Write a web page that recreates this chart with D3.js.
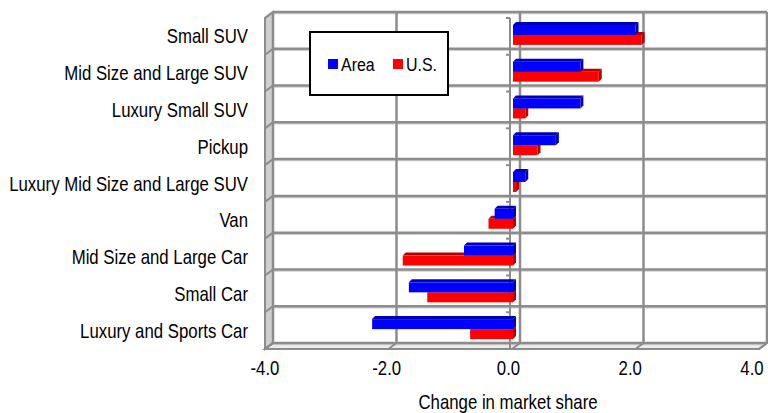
<!DOCTYPE html>
<html>
<head>
<meta charset="utf-8">
<script src="https://cdn.jsdelivr.net/npm/d3@7"></script>
<style>
  body { margin: 0; background: #fff; }
  svg text { font-family: "Liberation Sans", Arial, sans-serif; fill: #000; }
</style>
</head>
<body>
<div id="vis"></div>
<script>
var width = 768, height = 413

var categories = ['Small SUV', 'Mid Size and Large SUV', 'Luxury Small SUV', 'Pickup',
  'Luxury Mid Size and Large SUV', 'Van', 'Mid Size and Large Car', 'Small Car', 'Luxury and Sports Car']
var areaValues = [2.0, 1.1, 1.1, 0.7, 0.2, -0.3, -0.8, -1.7, -2.3]
var usValues = [2.1, 1.4, 0.2, 0.4, 0.05, -0.4, -1.8, -1.4, -0.7]
var seriesNames = ['Area', 'U.S.']
var seriesColors = ['#0000ff', '#ff0000']
var sideColors = ['#0000b4', '#b40000']
var tickValues = [-4, -2, 0, 2, 4]

var grid = '#8c8c8c'
// back wall box
var wall = { left: 273, right: 767, top: 12, bottom: 343 }
var depth = { dx: -8, dy: 6 }   // back -> front offset
var squeeze = 0.84  // narrow the font, reference uses a condensed face

var svg = d3.select('#vis').append('svg').attr('width', width).attr('height', height)

var xBack = d3.scaleLinear().domain([-4, 4]).range([wall.left, wall.right])
var xLabel = d3.scaleLinear().domain([-4, 4]).range([265, 752])
var xBar = d3.scaleLinear().domain([-4, 4]).range([268, 758])
var yBack = d3.scaleBand().domain(categories).range([wall.top, wall.bottom])

// text placed with a horizontal squeeze around its anchor point
function label(parent, x, y, str, size, anchor) {
  return parent.append('text')
    .attr('transform', 'translate(' + x + ',' + y + ') scale(' + squeeze + ',1)')
    .attr('text-anchor', anchor || 'start')
    .attr('font-size', size)
    .text(str)
}

// left side wall
svg.append('polygon')
  .attr('points', [[wall.left, wall.top], [wall.left, wall.bottom], [wall.left + depth.dx, wall.bottom + depth.dy], [wall.left + depth.dx, wall.top + depth.dy]].join(' '))
  .attr('fill', '#cfcfcf').attr('stroke', grid).attr('stroke-width', 2)

// floor
svg.append('polygon')
  .attr('points', [[wall.left, wall.bottom], [wall.right, wall.bottom], [wall.right + depth.dx, wall.bottom + depth.dy], [wall.left + depth.dx, wall.bottom + depth.dy]].join(' '))
  .attr('fill', '#ececec').attr('stroke', grid).attr('stroke-width', 2)

// back wall
svg.append('rect')
  .attr('x', wall.left).attr('y', wall.top)
  .attr('width', wall.right - wall.left).attr('height', wall.bottom - wall.top)
  .attr('fill', '#fff')

// horizontal gridlines (category boundaries) on back and side wall
var bounds = categories.map(function(c) { return yBack(c) }).concat([wall.bottom])
bounds.forEach(function(y) {
  svg.append('line').attr('x1', wall.left).attr('x2', wall.right).attr('y1', y + 1.5).attr('y2', y + 1.5)
    .attr('stroke', '#d0d0d0').attr('stroke-width', 1.5)
  svg.append('line').attr('x1', wall.left).attr('x2', wall.right).attr('y1', y).attr('y2', y)
    .attr('stroke', grid).attr('stroke-width', 2.5)
  svg.append('line').attr('x1', wall.left).attr('x2', wall.left + depth.dx).attr('y1', y).attr('y2', y + depth.dy)
    .attr('stroke', grid).attr('stroke-width', 2)
})

// vertical gridlines on back wall and floor
tickValues.forEach(function(v) {
  svg.append('line').attr('x1', xBack(v)).attr('x2', xBack(v)).attr('y1', wall.top).attr('y2', wall.bottom)
    .attr('stroke', grid).attr('stroke-width', 2.5)
  svg.append('line').attr('x1', xBack(v)).attr('x2', xBack(v) + depth.dx).attr('y1', wall.bottom).attr('y2', wall.bottom + depth.dy)
    .attr('stroke', grid).attr('stroke-width', 2)
})

// zero category axis in front
var axisX = xBack(0) - 10
svg.append('line').attr('x1', axisX).attr('x2', axisX).attr('y1', wall.top + depth.dy).attr('y2', wall.bottom + depth.dy)
  .attr('stroke', grid).attr('stroke-width', 2)
bounds.forEach(function(y) {
  svg.append('line').attr('x1', axisX - 4).attr('x2', axisX).attr('y1', y + depth.dy).attr('y2', y + depth.dy)
    .attr('stroke', grid).attr('stroke-width', 2)
})

// 3D bars
var barH = 10, d3d = 3, barDy = 4.5
function drawBar(cat, v, s) {
  var yc = yBack(cat) + yBack.bandwidth() / 2 + barDy
  var y = s === 0 ? yc - barH : yc
  var x0 = Math.min(xBar(0), xBar(v)), x1 = Math.max(xBar(0), xBar(v))
  var gBar = svg.append('g')
  gBar.append('polygon')
    .attr('points', [[x0, y], [x1, y], [x1 + d3d, y - d3d], [x0 + d3d, y - d3d]].join(' '))
    .attr('fill', sideColors[s])
  gBar.append('polygon')
    .attr('points', [[x1, y], [x1 + d3d, y - d3d], [x1 + d3d, y + barH - d3d], [x1, y + barH]].join(' '))
    .attr('fill', sideColors[s])
  gBar.append('rect').attr('x', x0).attr('y', y).attr('width', x1 - x0).attr('height', barH)
    .attr('fill', seriesColors[s])
}
categories.forEach(function(c, i) { drawBar(c, usValues[i], 1) })
categories.forEach(function(c, i) { drawBar(c, areaValues[i], 0) })

// category labels
categories.forEach(function(c) {
  label(svg, 248, yBack(c) + yBack.bandwidth() / 2 + depth.dy + 7, c, 20, 'end')
})

// value tick labels
tickValues.forEach(function(v) {
  label(svg, xLabel(v), 375, v.toFixed(1), 20, 'middle')
})

label(svg, 508, 409, 'Change in market share', 20, 'middle')

// legend
var lg = svg.append('g')
lg.append('rect').attr('x', 310).attr('y', 32).attr('width', 138).attr('height', 63)
  .attr('fill', '#fff').attr('stroke', '#000').attr('stroke-width', 2)
var legX = [328, 393]
seriesNames.forEach(function(n, i) {
  lg.append('rect').attr('x', legX[i]).attr('y', 59).attr('width', 10).attr('height', 10).attr('fill', seriesColors[i])
  label(lg, legX[i] + 13, 71, n, 19, 'start')
})
</script>
</body>
</html>
